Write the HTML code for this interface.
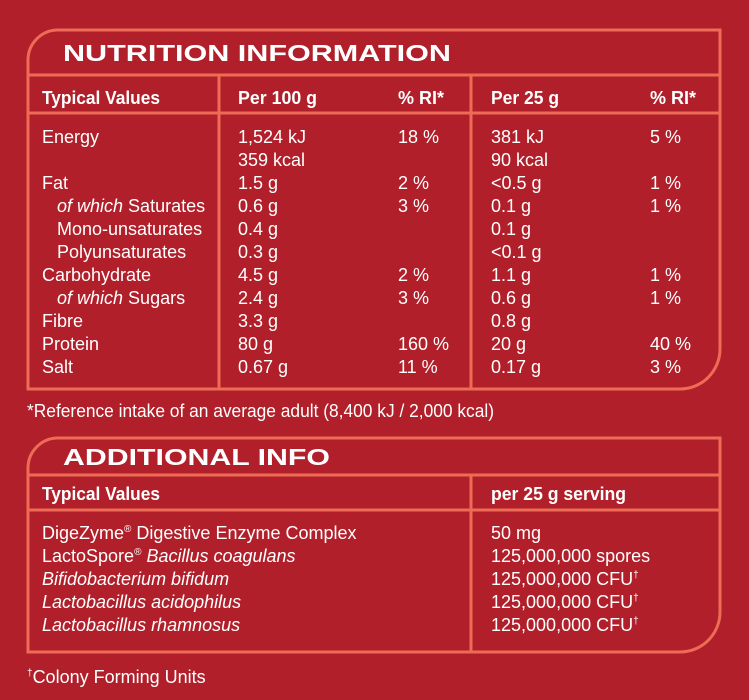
<!DOCTYPE html>
<html><head><meta charset="utf-8"><style>
html,body{margin:0;padding:0;background:#b01f2a;}
svg{display:block}
text{font-family:"Liberation Sans",sans-serif;fill:#fff;font-size:18px}
.b{font-weight:bold;font-size:18px}
.h{font-weight:bold;font-size:23px}
.i{font-style:italic}
</style></head><body>
<svg width="749" height="700" xmlns="http://www.w3.org/2000/svg">
<rect width="749" height="700" fill="#b01f2a"/>
<g fill="none" stroke="#ee6b55" stroke-width="3">
<path d="M28,389 L28,60 A30 30 0 0 1 58,30 L720,30 L720,349 A40 40 0 0 1 680,389 Z"/>
<line x1="28" y1="75" x2="720" y2="75"/>
<line x1="28" y1="113" x2="720" y2="113"/>
<line x1="219" y1="75" x2="219" y2="389"/>
<line x1="471" y1="75" x2="471" y2="389"/>
<path d="M28,652 L28,468 A30 30 0 0 1 58,438 L720,438 L720,612 A40 40 0 0 1 680,652 Z"/>
<line x1="28" y1="475" x2="720" y2="475"/>
<line x1="28" y1="510" x2="720" y2="510"/>
<line x1="471" y1="475" x2="471" y2="652"/>
</g>
<text class="h" x="63" y="61" textLength="388" lengthAdjust="spacingAndGlyphs">NUTRITION INFORMATION</text>
<text class="b" x="42" y="104" textLength="118" lengthAdjust="spacingAndGlyphs">Typical Values</text>
<text class="b" x="238" y="104" textLength="79" lengthAdjust="spacingAndGlyphs">Per 100 g</text>
<text class="b" x="398" y="104">% RI*</text>
<text class="b" x="491" y="104" textLength="68" lengthAdjust="spacingAndGlyphs">Per 25 g</text>
<text class="b" x="650" y="104">% RI*</text>
<g>
<text x="42" y="143">Energy</text><text x="238" y="143">1,524 kJ</text><text x="398" y="143">18 %</text><text x="491" y="143">381 kJ</text><text x="650" y="143">5 %</text>
<text x="238" y="166">359 kcal</text><text x="491" y="166">90 kcal</text>
<text x="42" y="189">Fat</text><text x="238" y="189">1.5 g</text><text x="398" y="189">2 %</text><text x="491" y="189">&lt;0.5 g</text><text x="650" y="189">1 %</text>
<text x="57" y="212"><tspan class="i">of which</tspan> Saturates</text><text x="238" y="212">0.6 g</text><text x="398" y="212">3 %</text><text x="491" y="212">0.1 g</text><text x="650" y="212">1 %</text>
<text x="57" y="235">Mono-unsaturates</text><text x="238" y="235">0.4 g</text><text x="491" y="235">0.1 g</text>
<text x="57" y="258">Polyunsaturates</text><text x="238" y="258">0.3 g</text><text x="491" y="258">&lt;0.1 g</text>
<text x="42" y="281">Carbohydrate</text><text x="238" y="281">4.5 g</text><text x="398" y="281">2 %</text><text x="491" y="281">1.1 g</text><text x="650" y="281">1 %</text>
<text x="57" y="304"><tspan class="i">of which</tspan> Sugars</text><text x="238" y="304">2.4 g</text><text x="398" y="304">3 %</text><text x="491" y="304">0.6 g</text><text x="650" y="304">1 %</text>
<text x="42" y="327">Fibre</text><text x="238" y="327">3.3 g</text><text x="491" y="327">0.8 g</text>
<text x="42" y="350">Protein</text><text x="238" y="350">80 g</text><text x="398" y="350">160 %</text><text x="491" y="350">20 g</text><text x="650" y="350">40 %</text>
<text x="42" y="373">Salt</text><text x="238" y="373">0.67 g</text><text x="398" y="373">11 %</text><text x="491" y="373">0.17 g</text><text x="650" y="373">3 %</text>
</g>
<text x="27" y="417" textLength="467" lengthAdjust="spacingAndGlyphs">*Reference intake of an average adult (8,400 kJ / 2,000 kcal)</text>
<text class="h" x="63" y="465" textLength="267" lengthAdjust="spacingAndGlyphs">ADDITIONAL INFO</text>
<text class="b" x="42" y="500" textLength="118" lengthAdjust="spacingAndGlyphs">Typical Values</text>
<text class="b" x="491" y="500" textLength="135" lengthAdjust="spacingAndGlyphs">per 25 g serving</text>
<text x="42" y="539">DigeZyme<tspan font-size="10" dy="-7">®</tspan><tspan dy="7"> Digestive Enzyme Complex</tspan></text>
<text x="491" y="539">50 mg</text>
<text x="42" y="562">LactoSpore<tspan font-size="10" dy="-7">®</tspan><tspan dy="7" class="i"> Bacillus coagulans</tspan></text>
<text x="491" y="562">125,000,000 spores</text>
<text class="i" x="42" y="585">Bifidobacterium bifidum</text>
<text x="491" y="585">125,000,000 CFU<tspan font-size="10" dy="-7">†</tspan></text>
<text class="i" x="42" y="608">Lactobacillus acidophilus</text>
<text x="491" y="608">125,000,000 CFU<tspan font-size="10" dy="-7">†</tspan></text>
<text class="i" x="42" y="631">Lactobacillus rhamnosus</text>
<text x="491" y="631">125,000,000 CFU<tspan font-size="10" dy="-7">†</tspan></text>
<text x="27" y="683"><tspan font-size="10" dy="-7">†</tspan><tspan dy="7">Colony Forming Units</tspan></text>
</svg>
</body></html>
